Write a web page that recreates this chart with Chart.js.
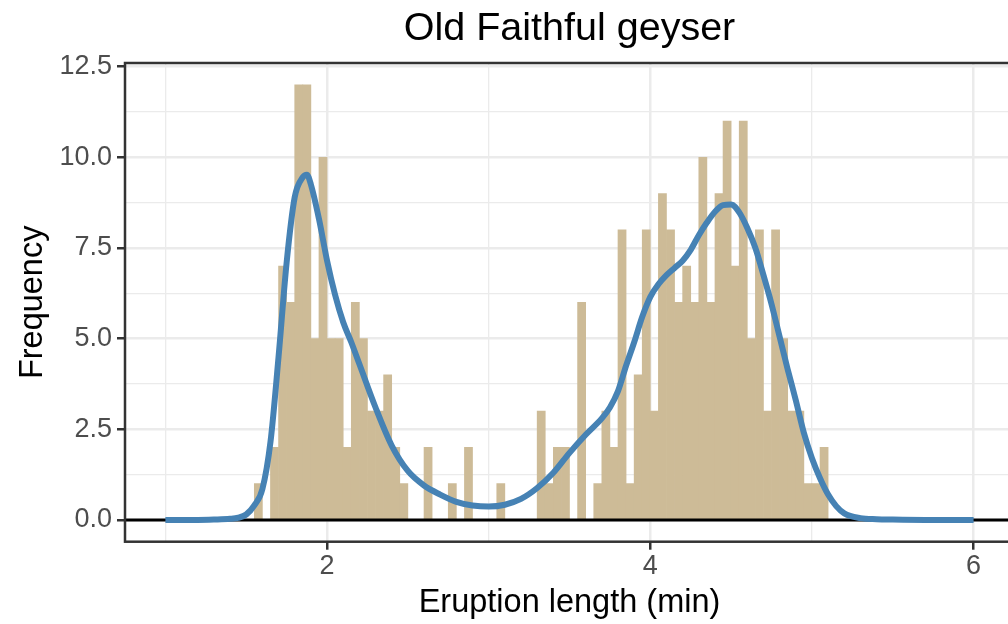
<!DOCTYPE html>
<html>
<head>
<meta charset="utf-8">
<script src="https://cdn.jsdelivr.net/npm/chart.js@4"></script>
<style>
    html, body { margin: 0; padding: 0; background: #fff; overflow: hidden; }
    #wrap { width: 1020px; height: 624px; }
</style>
</head>
<body>
<div id="wrap"><canvas id="geyserChart" width="1020" height="624"></canvas></div>
<script>
// Histogram: bins of 0.05 min, first bin starts at 1.55
const binStart = 1.55;
const binWidth = 0.05;
const binCounts = [
    1, 0, 2, 7, 6, 12, 12, 5, 10, 5, 5, 2, 6, 5, 3, 3, 4, 2, 1, 0,
    0, 2, 0, 0, 1, 0, 2, 0, 0, 0, 1, 0, 0, 0, 0, 3, 1, 2, 2, 0,
    6, 0, 1, 3, 2, 8, 1, 4, 8, 3, 9, 8, 6, 7, 6, 10, 6, 9, 11, 7,
    11, 5, 8, 3, 8, 5, 3, 3, 1, 1, 2
];

// Density curve (scaled to counts)
const densX = [1.0, 1.1, 1.2, 1.3, 1.4, 1.45, 1.5, 1.55, 1.6, 1.65, 1.7, 1.75, 1.8, 1.85, 1.875,
    1.9, 1.95, 2.0, 2.05, 2.1, 2.15, 2.2, 2.3, 2.4, 2.5, 2.6, 2.7, 2.8, 2.9, 3.0,
    3.1, 3.2, 3.3, 3.4, 3.5, 3.6, 3.7, 3.75, 3.8, 3.85, 3.9, 3.95, 4.0, 4.05, 4.1,
    4.15, 4.2, 4.25, 4.3, 4.35, 4.4, 4.45, 4.5, 4.55, 4.6, 4.65, 4.7, 4.75, 4.8, 4.85,
    4.9, 4.95, 5.0, 5.05, 5.1, 5.15, 5.2, 5.3, 5.4, 5.5, 5.7, 6.0];
const densY = [0, 0, 0, 0.01, 0.03, 0.06, 0.15, 0.4, 0.85, 2.15, 4.5, 7.1, 8.9, 9.45, 9.52,
    9.25, 8.3, 7.15, 6.2, 5.45, 4.9, 4.3, 3.1, 2.05, 1.35, 0.95, 0.7, 0.5, 0.4, 0.37,
    0.42, 0.58, 0.88, 1.3, 1.85, 2.35, 2.8, 3.1, 3.55, 4.25, 4.9, 5.6, 6.15, 6.5, 6.75,
    6.95, 7.15, 7.45, 7.85, 8.2, 8.5, 8.68, 8.7, 8.48, 8.05, 7.5, 6.75, 5.95, 5.05, 4.15,
    3.3, 2.4, 1.7, 1.15, 0.7, 0.38, 0.18, 0.05, 0.02, 0.01, 0, 0];

// Axis ticks (grid lines); labelled ones are the major ones
const xTicks = [1, 2, 3, 4, 5, 6];
const xLabelled = [2, 4, 6];
const yTicks = [0, 1.25, 2.5, 3.75, 5, 6.25, 7.5, 8.75, 10, 11.25, 12.5];
const yLabelled = [0, 2.5, 5, 7.5, 10, 12.5];

const titleText = "Old Faithful geyser";
const xTitle = "Eruption length (min)";
const yTitle = "Frequency";

const FONT = "'Liberation Sans', Arial, sans-serif";

const histData = binCounts.map((c, i) => ({ x: binStart + binWidth * (i + 0.5), y: c }));
const densData = densX.map((x, i) => ({ x: x, y: densY[i] }));

// panel box, zero line, titles
const panelPlugin = {
    id: "panel",
    afterDatasetDraw(chart, args) {
        if (args.meta.type !== "bar") return;
        const { ctx, chartArea } = chart;
        const y0 = chart.scales.y.getPixelForValue(0);
        ctx.save();
        ctx.strokeStyle = "#000";
        ctx.lineWidth = 3;
        ctx.beginPath();
        ctx.moveTo(chartArea.left, y0);
        ctx.lineTo(chartArea.right, y0);
        ctx.stroke();
        ctx.restore();
    },
    afterDraw(chart) {
        const { ctx, chartArea } = chart;
        ctx.save();
        ctx.strokeStyle = "#333333";
        ctx.lineWidth = 2.5;
        ctx.strokeRect(chartArea.left, chartArea.top, chartArea.right - chartArea.left, chartArea.bottom - chartArea.top);

        ctx.fillStyle = "#000";
        ctx.textAlign = "center";
        ctx.textBaseline = "alphabetic";
        const cx = (chartArea.left + chartArea.right) / 2;
        ctx.font = "39.5px " + FONT;
        ctx.fillText(titleText, cx, 40);
        ctx.font = "32.5px " + FONT;
        ctx.fillText(xTitle, cx, 612);

        ctx.translate(42, (chartArea.top + chartArea.bottom) / 2);
        ctx.rotate(-Math.PI / 2);
        ctx.fillText(yTitle, 0, 0);
        ctx.restore();
    }
};

const isMajor = (list, v) => list.some(t => Math.abs(t - v) < 1e-9);

new Chart(document.getElementById("geyserChart"), {
    type: "bar",
    data: {
        datasets: [
            {
                type: "line",
                data: densData,
                borderColor: "#4682B4",
                borderWidth: 6,
                pointRadius: 0,
                cubicInterpolationMode: "monotone",
                borderCapStyle: "butt",
                order: 0
            },
            {
                type: "bar",
                data: histData,
                backgroundColor: "rgb(205, 187, 151)",
                borderWidth: 0,
                barPercentage: 1,
                categoryPercentage: 1,
                order: 1
            }
        ]
    },
    options: {
        responsive: false,
        animation: false,
        devicePixelRatio: 1,
        layout: { padding: { top: 63, right: 6, left: 0, bottom: 0 } },
        plugins: {
            legend: { display: false },
            tooltip: { enabled: false },
            title: { display: false }
        },
        scales: {
            x: {
                type: "linear",
                min: 0.75,
                max: 6.25,
                offset: false,
                afterBuildTicks: (scale) => { scale.ticks = xTicks.map(v => ({ value: v })); },
                afterFit: (scale) => { scale.height = 82.3; },
                border: { display: false },
                grid: {
                    offset: false,
                    color: "#EBEBEB",
                    lineWidth: (c) => isMajor(xLabelled, c.tick.value) ? 2.5 : 1.3,
                    tickColor: (c) => isMajor(xLabelled, c.tick.value) ? "#333333" : "rgba(0,0,0,0)",
                    tickLength: 8,
                    tickWidth: 2.5
                },
                ticks: {
                    autoSkip: false,
                    maxRotation: 0,
                    padding: 1,
                    color: "#4D4D4D",
                    font: { family: FONT, size: 27 },
                    callback: (v) => isMajor(xLabelled, v) ? String(v) : ""
                }
            },
            y: {
                type: "linear",
                min: -0.6,
                max: 12.6,
                afterBuildTicks: (scale) => { scale.ticks = yTicks.map(v => ({ value: v })); },
                afterFit: (scale) => { scale.width = 125; },
                border: { display: false },
                grid: {
                    color: "#EBEBEB",
                    lineWidth: (c) => isMajor(yLabelled, c.tick.value) ? 2.5 : 1.3,
                    tickColor: (c) => isMajor(yLabelled, c.tick.value) ? "#333333" : "rgba(0,0,0,0)",
                    tickLength: 8,
                    tickWidth: 2.5
                },
                ticks: {
                    autoSkip: false,
                    padding: 5,
                    color: "#4D4D4D",
                    font: { family: FONT, size: 27 },
                    callback: (v) => isMajor(yLabelled, v) ? v.toFixed(1) : ""
                }
            }
        }
    },
    plugins: [panelPlugin]
});
</script>
</body>
</html>
